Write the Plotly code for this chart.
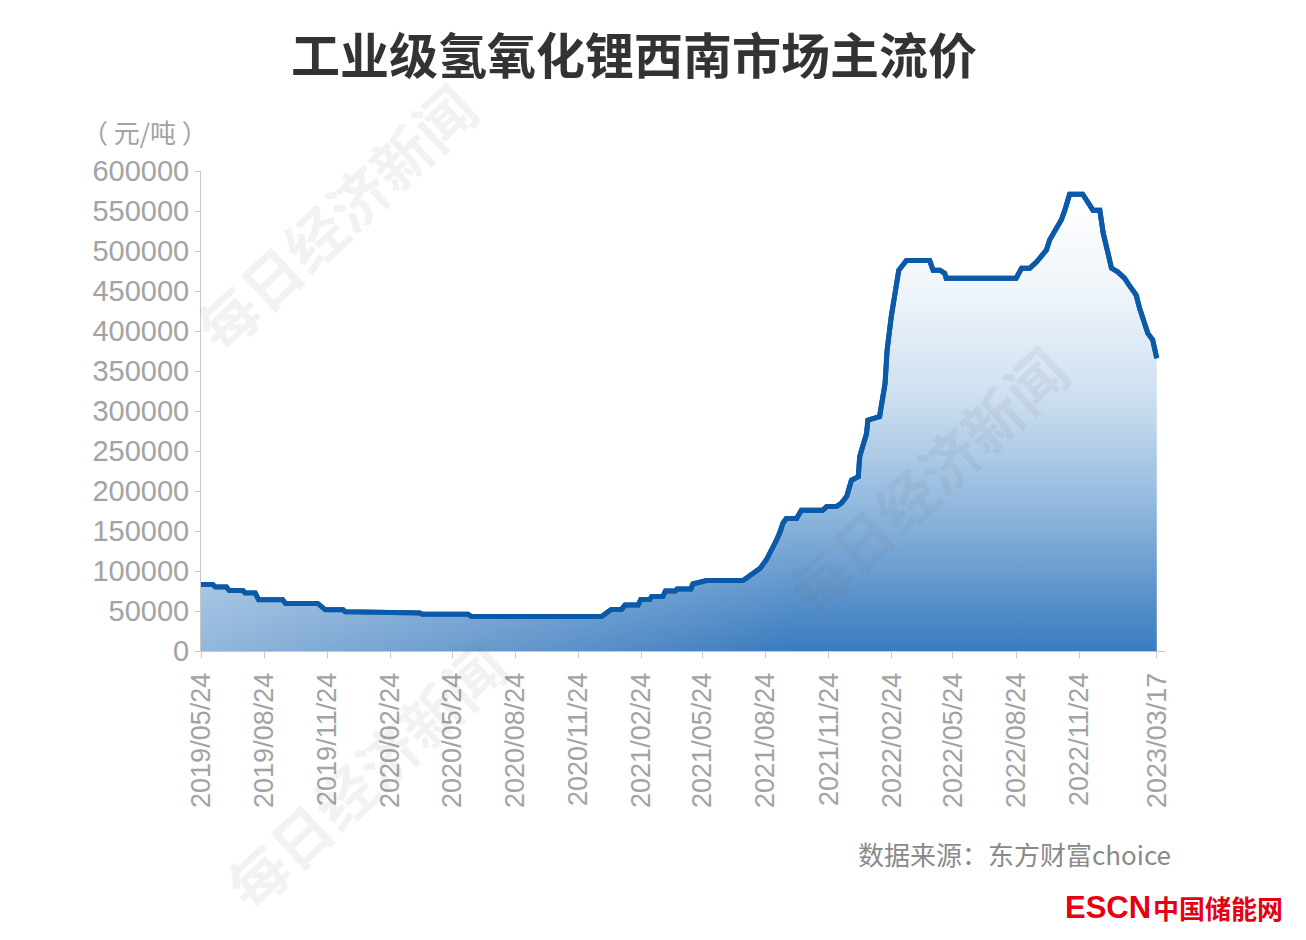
import datetime as _dt
import plotly.graph_objects as go

# ---- data ----
dates = [
    "2019-05-24", "2019-06-10", "2019-06-14", "2019-06-30", "2019-07-04", "2019-07-24",
    "2019-07-27", "2019-08-11", "2019-08-16", "2019-09-20", "2019-09-24", "2019-11-10",
    "2019-11-21", "2019-12-17", "2019-12-20", "2020-01-08", "2020-01-11", "2020-04-07",
    "2020-04-10", "2020-06-16", "2020-06-21", "2020-12-28", "2021-01-11", "2021-01-26",
    "2021-01-31", "2021-02-19", "2021-02-23", "2021-03-08", "2021-03-11", "2021-03-27",
    "2021-03-31", "2021-04-14", "2021-04-17", "2021-05-07", "2021-05-10", "2021-05-22",
    "2021-05-30", "2021-07-22", "2021-08-01", "2021-08-16", "2021-08-25", "2021-09-01",
    "2021-09-09", "2021-09-14", "2021-09-18", "2021-09-23", "2021-10-08", "2021-10-15",
    "2021-11-15", "2021-11-21", "2021-12-05", "2021-12-12", "2021-12-20", "2021-12-27",
    "2022-01-06", "2022-01-08", "2022-01-13", "2022-01-18", "2022-01-20", "2022-02-06",
    "2022-02-14", "2022-02-17", "2022-02-23", "2022-03-03", "2022-03-06", "2022-03-12",
    "2022-03-17", "2022-04-20", "2022-04-25", "2022-05-05", "2022-05-10", "2022-05-12",
    "2022-05-14", "2022-08-24", "2022-09-01", "2022-09-13", "2022-09-23", "2022-09-30",
    "2022-10-07", "2022-10-12", "2022-10-22", "2022-10-29", "2022-11-03", "2022-11-10",
    "2022-11-29", "2022-12-07", "2022-12-14", "2022-12-24", "2022-12-29", "2023-01-05",
    "2023-01-10", "2023-01-19", "2023-01-29", "2023-02-03", "2023-02-10", "2023-02-15",
    "2023-02-20", "2023-02-27", "2023-03-04", "2023-03-11", "2023-03-17",
]
prices = [
    83000, 83000, 80000, 80000, 75500, 75500,
    72500, 72500, 64000, 64000, 59500, 59500,
    51500, 51500, 49000, 49000, 47500, 47500,
    46000, 46000, 43000, 43000, 52000, 52000,
    57500, 57500, 64500, 64500, 68000, 68000,
    75000, 75000, 77500, 77500, 84000, 86000,
    88000, 88000, 94500, 103500, 114000, 125000,
    139000, 149000, 159500, 165500, 165500, 176000,
    176000, 180500, 180500, 184500, 193000, 213500,
    218000, 243000, 259500, 272000, 288500, 293000,
    334500, 376000, 418000, 459500, 476000, 482500,
    488000, 488000, 476000, 476000, 472000, 472000,
    466000, 466000, 478500, 478500, 486500, 495000,
    501000, 514000, 530500, 539000, 551000, 571000,
    571000, 561500, 551000, 551000, 522000, 497000,
    478500, 474000, 466000, 459500, 451000, 445000,
    428500, 409500, 397000, 389000, 366000,
]

x_tick_dates = [
    "2019-05-24", "2019-08-24", "2019-11-24", "2020-02-24", "2020-05-24", "2020-08-24",
    "2020-11-24", "2021-02-24", "2021-05-24", "2021-08-24", "2021-11-24", "2022-02-24",
    "2022-05-24", "2022-08-24", "2022-11-24", "2023-03-17",
]
x_tick_labels = [d.replace("-", "/") for d in x_tick_dates]
y_ticks = list(range(0, 600001, 50000))

title_text = "工业级氢氧化锂西南市场主流价"
unit_text = "（ 元/吨 ）"
source_text = "数据来源：东方财富choice"
watermark = "每日经济新闻"

GRAY = "#a3a3a3"
LINE = "#0b5aa8"
CJK = "Noto Sans CJK SC"
NUM = "Liberation Sans, Arial, sans-serif"


def _ms(s):
    return _dt.datetime.strptime(s, "%Y-%m-%d").replace(tzinfo=_dt.timezone.utc).timestamp() * 1000


fig = go.Figure()

# main filled area with vertical gradient
fig.add_trace(go.Scatter(
    x=dates, y=prices, mode="lines",
    line=dict(color=LINE, width=5),
    fill="tozeroy",
    fillgradient=dict(
        type="vertical", start=0, stop=575000,
        colorscale=[[0, "#3a7bbf"], [0.28, "#88b2db"], [0.55, "#cddff0"],
                    [0.8, "#f1f6fb"], [1, "#ffffff"]],
    ),
    hoverinfo="skip", showlegend=False,
))
# light overlay to make the left side paler (diagonal look)
fig.add_trace(go.Scatter(
    x=dates, y=prices, mode="lines",
    line=dict(color="rgba(0,0,0,0)", width=0),
    fill="tozeroy",
    fillgradient=dict(
        type="horizontal", start=_ms(dates[0]), stop=_ms("2021-10-01"),
        colorscale=[[0, "rgba(255,255,255,0.45)"], [1, "rgba(255,255,255,0)"]],
    ),
    hoverinfo="skip", showlegend=False,
))
# redraw the line on top
fig.add_trace(go.Scatter(
    x=dates, y=prices, mode="lines",
    line=dict(color=LINE, width=5),
    hoverinfo="skip", showlegend=False,
))

annotations = [
    dict(text=unit_text, xref="paper", yref="paper", x=0.009, y=1.083,
         xanchor="right", yanchor="middle", showarrow=False,
         font=dict(family=CJK, size=26, color=GRAY)),
    dict(text=source_text, xref="paper", yref="paper", x=1.0085, y=-0.421,
         xanchor="right", yanchor="middle", showarrow=False,
         font=dict(family=CJK, size=26, color="#8a8a8a")),
    dict(text="<b>ESCN</b>", xref="paper", yref="paper", x=0.988, y=-0.535,
         xanchor="right", yanchor="middle", showarrow=False,
         font=dict(family=NUM, size=31, color="#e60012")),
    dict(text="<b>中国储能网</b>", xref="paper", yref="paper", x=1.124, y=-0.535,
         xanchor="right", yanchor="middle", showarrow=False,
         font=dict(family=CJK, size=26, color="#e60012")),
]
for wx, wy in [(0.139, 0.905), (0.752, 0.358), (0.170, -0.258)]:
    annotations.append(dict(
        text="<b>" + watermark + "</b>", xref="paper", yref="paper", x=wx, y=wy,
        xanchor="center", yanchor="middle", showarrow=False, textangle=-43,
        font=dict(family=CJK, size=59, color="rgba(110,110,110,0.09)"),
    ))

fig.update_layout(
    width=1306, height=940,
    margin=dict(l=201, r=141, t=171, b=289),
    paper_bgcolor="white", plot_bgcolor="white",
    title=dict(text="<b>" + title_text + "</b>", x=0.4855, y=0.939,
               xanchor="center", yanchor="middle",
               font=dict(family=CJK, size=49, color="#333333")),
    annotations=annotations,
    showlegend=False,
)
fig.update_xaxes(
    type="date", range=["2019-05-24", "2023-03-29"],
    tickmode="array", tickvals=x_tick_dates, ticktext=x_tick_labels,
    tickangle=-90, ticks="outside", ticklen=6, tickcolor="#c8c8c8",
    ticklabelstandoff=4,
    showline=True, linecolor="#c8c8c8", linewidth=1,
    showgrid=False, zeroline=False,
    tickfont=dict(family=NUM, size=27, color=GRAY),
)
fig.update_yaxes(
    range=[0, 600000], tickmode="array", tickvals=y_ticks,
    ticktext=[str(v) for v in y_ticks],
    ticks="outside", ticklen=5, tickcolor="#c8c8c8", ticklabelstandoff=0,
    showline=True, linecolor="#c8c8c8", linewidth=1,
    showgrid=False, zeroline=False,
    tickfont=dict(family=NUM, size=29, color=GRAY),
)

fig.write_html(
    "out.html",
    config={"displayModeBar": False},
    post_script="document.body.style.margin='0';document.body.style.overflow='hidden';",
)
